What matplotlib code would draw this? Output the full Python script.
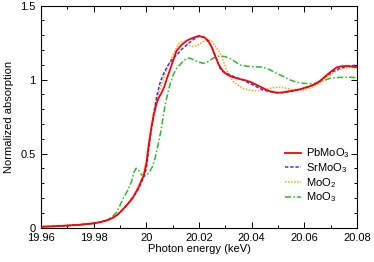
import matplotlib
matplotlib.use("Agg")
import matplotlib.pyplot as plt
from matplotlib.ticker import MultipleLocator, FixedLocator

plt.rcParams['font.family'] = ['Liberation Sans', 'DejaVu Sans']
plt.rcParams['mathtext.default'] = 'regular'

labels = ['PbMoO$_3$', 'SrMoO$_3$', 'MoO$_2$', 'MoO$_3$']

E_pb = [19.96, 19.965, 19.97, 19.975, 19.98, 19.9825, 19.985, 19.987, 19.989, 19.991,
        19.993, 19.995, 19.997, 19.999, 20.0, 20.001, 20.002, 20.0027, 20.0039, 20.0048,
        20.0058, 20.0068, 20.0077, 20.0096, 20.0115, 20.0135, 20.0153, 20.0175, 20.0198,
        20.022, 20.0235, 20.0248, 20.026, 20.0275, 20.0292, 20.031, 20.033, 20.0355,
        20.0381, 20.040, 20.0419, 20.044, 20.0457, 20.0475, 20.0495, 20.0515, 20.0533,
        20.0558, 20.0584, 20.061, 20.0634, 20.066, 20.0685, 20.0705, 20.0723, 20.0742,
        20.0761, 20.078, 20.08]
V_pb = [0.005, 0.008, 0.013, 0.019, 0.028, 0.036, 0.048, 0.063, 0.085, 0.12,
        0.16, 0.205, 0.27, 0.35, 0.43, 0.57, 0.68, 0.75, 0.84, 0.88,
        0.91, 0.95, 1.0, 1.098, 1.195, 1.235, 1.262, 1.28, 1.294,
        1.285, 1.262, 1.22, 1.165, 1.10, 1.053, 1.03, 1.015, 1.003,
        0.992, 0.98, 0.963, 0.945, 0.929, 0.918, 0.911, 0.911, 0.918,
        0.925, 0.934, 0.948, 0.963, 0.99, 1.030, 1.058, 1.082, 1.09,
        1.091, 1.088, 1.082]

E_sr = [19.96, 19.965, 19.97, 19.975, 19.98, 19.9825, 19.985, 19.987, 19.989, 19.991,
        19.993, 19.995, 19.997, 19.999, 20.0, 20.001, 20.002, 20.003, 20.0039, 20.005,
        20.0058, 20.007, 20.0083, 20.0100, 20.0115, 20.0135, 20.0153, 20.0178, 20.0204,
        20.0225, 20.0248, 20.0262, 20.0273, 20.028, 20.030, 20.0318, 20.0343, 20.0368,
        20.0385, 20.0406, 20.0425, 20.0444, 20.047, 20.0495, 20.052, 20.0546, 20.057,
        20.0596, 20.062, 20.0647, 20.067, 20.0698, 20.0717, 20.0736, 20.0755, 20.0774, 20.08]
V_sr = [0.005, 0.008, 0.013, 0.019, 0.028, 0.036, 0.048, 0.063, 0.085, 0.12,
        0.16, 0.205, 0.26, 0.34, 0.40, 0.54, 0.68, 0.79, 0.88, 0.965,
        1.008, 1.055, 1.098, 1.14, 1.166, 1.205, 1.233, 1.27, 1.296,
        1.28, 1.222, 1.16, 1.109, 1.076, 1.045, 1.03, 1.012, 0.997,
        0.98, 0.963, 0.945, 0.929, 0.918, 0.911, 0.913, 0.918, 0.928,
        0.94, 0.955, 0.974, 1.005, 1.042, 1.062, 1.076, 1.085, 1.091, 1.098]

E_mo2 = [19.96, 19.965, 19.97, 19.975, 19.98, 19.9825, 19.985, 19.987, 19.989, 19.991,
         19.993, 19.995, 19.997, 19.999, 20.0, 20.0014, 20.0027, 20.004, 20.0058, 20.0077,
         20.009, 20.0105, 20.012, 20.0134, 20.0150, 20.0165, 20.0178, 20.0195, 20.0215,
         20.0235, 20.0248, 20.0254, 20.0268, 20.028, 20.0293, 20.0305, 20.0318, 20.033,
         20.035, 20.0368, 20.0385, 20.0406, 20.0425, 20.0444, 20.0463, 20.0482, 20.05,
         20.052, 20.054, 20.0558, 20.0577, 20.0596, 20.062, 20.0647, 20.067, 20.0698,
         20.072, 20.0748, 20.0775, 20.08]
V_mo2 = [0.005, 0.008, 0.013, 0.019, 0.028, 0.036, 0.048, 0.063, 0.085, 0.12,
         0.16, 0.20, 0.27, 0.37, 0.45, 0.63, 0.77, 0.86, 0.97, 1.07,
         1.12, 1.18, 1.235, 1.255, 1.245, 1.228, 1.222, 1.232, 1.255,
         1.267, 1.26, 1.245, 1.21, 1.177, 1.12, 1.064, 1.02, 0.985,
         0.96, 0.94, 0.93, 0.924, 0.925, 0.929, 0.938, 0.945, 0.947,
         0.945, 0.938, 0.929, 0.927, 0.929, 0.942, 0.963, 0.995, 1.030,
         1.055, 1.076, 1.083, 1.086]

E_mo3 = [19.96, 19.965, 19.97, 19.975, 19.98, 19.9825, 19.985, 19.987, 19.9888, 19.99,
         19.9913, 19.9926, 19.9944, 19.9952, 19.9961, 19.9968, 19.9976, 19.9985, 19.9993,
         20.0005, 20.0015, 20.0026, 20.0036, 20.0046, 20.0055, 20.0064, 20.0073, 20.0083,
         20.0092, 20.0102, 20.0115, 20.0128, 20.014, 20.0152, 20.0163, 20.0178, 20.0195,
         20.0217, 20.0235, 20.0255, 20.0268, 20.028, 20.0298, 20.0318, 20.0337, 20.0356,
         20.038, 20.0406, 20.0425, 20.0444, 20.047, 20.0495, 20.052, 20.0546, 20.057,
         20.0596, 20.062, 20.0647, 20.067, 20.0698, 20.0723, 20.0748, 20.0775, 20.08]
V_mo3 = [0.005, 0.008, 0.013, 0.019, 0.028, 0.036, 0.05, 0.07, 0.105, 0.15,
         0.2, 0.24, 0.31, 0.37, 0.40, 0.395, 0.37, 0.35, 0.348,
         0.36, 0.385, 0.42, 0.49, 0.569, 0.65, 0.749, 0.84, 0.92,
         0.98, 1.03, 1.075, 1.10, 1.125, 1.14, 1.145, 1.135, 1.12,
         1.109, 1.122, 1.145, 1.155, 1.159, 1.155, 1.143, 1.12, 1.098,
         1.09, 1.086, 1.085, 1.082, 1.065, 1.042, 1.02, 0.997, 0.982,
         0.974, 0.972, 0.974, 0.99, 1.008, 1.013, 1.015, 1.015, 1.012]

x_major = [19.96, 19.98, 20.0, 20.02, 20.04, 20.06, 20.08]
x_labels = ['19.96', '19.98', '20', '20.02', '20.04', '20.06', '20.08']
y_major = [0, 0.5, 1, 1.5]
y_labels = ['0', '0.5', '1', '1.5']

fig = plt.figure(figsize=(3.74, 2.62), dpi=100)
ax = fig.add_axes([41/374, 1-227.5/262, 316/374, 222/262])

ax.plot(E_pb, V_pb, color='#ff0000', lw=1.3, ls='-', label=labels[0], zorder=4)
ax.plot(E_sr, V_sr, color='#3333ff', lw=1.1, ls=(0, (2.2, 1.2)), label=labels[1], zorder=3)
ax.plot(E_mo2, V_mo2, color='#ffa500', lw=1.1, ls=(0, (1, 1)), label=labels[2], zorder=2)
ax.plot(E_mo3, V_mo3, color='#22c022', lw=1.1, ls=(0, (4, 1.5, 1, 1.5)), label=labels[3], zorder=1)

ax.set_xlim(19.96, 20.08)
ax.set_ylim(0, 1.5)
ax.xaxis.set_major_locator(FixedLocator(x_major))
ax.set_xticklabels(x_labels)
ax.xaxis.set_minor_locator(MultipleLocator(0.01))
ax.yaxis.set_major_locator(FixedLocator(y_major))
ax.set_yticklabels(y_labels)
ax.yaxis.set_minor_locator(MultipleLocator(0.1))

ax.tick_params(which='both', direction='in', top=True, right=True, labelsize=8,
               width=0.7, colors='black')
ax.tick_params(which='major', length=4)
ax.tick_params(axis='x', which='major', pad=4)
ax.tick_params(axis='y', which='major', pad=4)
ax.tick_params(which='minor', length=2.2)
for s in ax.spines.values():
    s.set_linewidth(0.8)

ax.set_xlabel('Photon energy (keV)', fontsize=8, labelpad=0.5)
ax.set_ylabel('Normalized absorption', fontsize=8, labelpad=4.5)

leg = ax.legend(loc='upper left', bbox_to_anchor=(0.772, 0.365), frameon=False,
                fontsize=8, handlelength=1.45, handletextpad=0.45,
                labelspacing=0.08, borderpad=0, borderaxespad=0)

fig.savefig('out.png', dpi=100)
